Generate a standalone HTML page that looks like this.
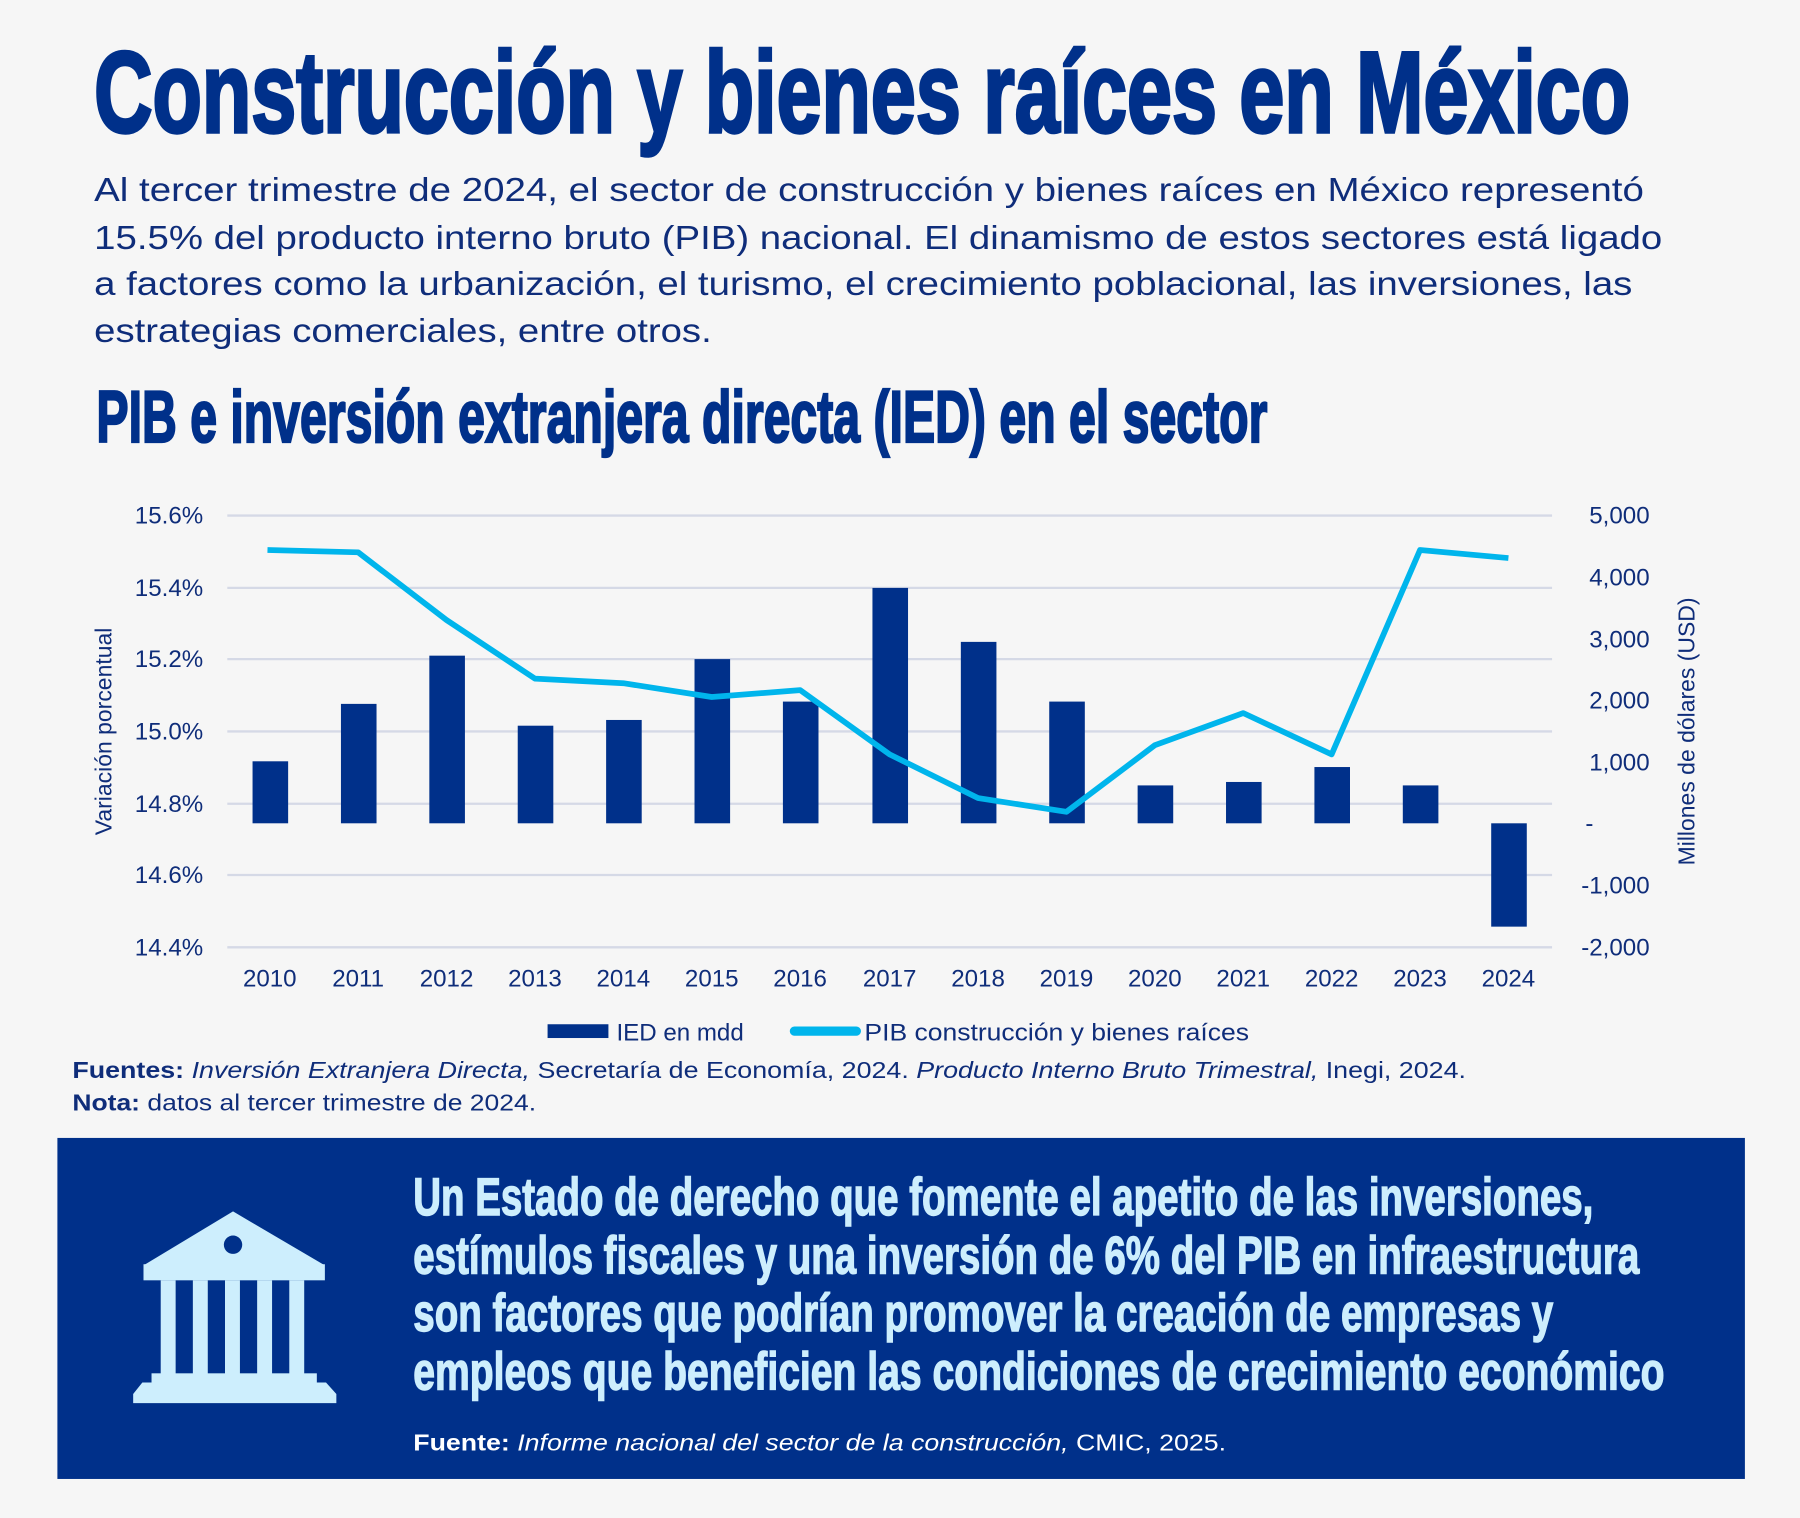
<!DOCTYPE html>
<html><head><meta charset="utf-8"><style>
html,body{margin:0;padding:0;background:#f6f6f6;}
svg{display:block}
text{font-family:"Liberation Sans",sans-serif;}
</style></head><body>
<svg width="1800" height="1518" viewBox="0 0 1568 1322" preserveAspectRatio="none" xmlns="http://www.w3.org/2000/svg">
<rect width="1568" height="1322" fill="#f6f6f6"/>
<text x="82" y="115" font-size="100" font-weight="bold" fill="#00308a" stroke="#00308a" stroke-width="3" textLength="1338" lengthAdjust="spacingAndGlyphs">Construcción y bienes raíces en México</text>
<g font-size="29" fill="#0f2d7a">
<text x="82" y="175" textLength="1350" lengthAdjust="spacingAndGlyphs">Al tercer trimestre de 2024, el sector de construcción y bienes raíces en México representó</text>
<text x="82" y="217" textLength="1366" lengthAdjust="spacingAndGlyphs">15.5% del producto interno bruto (PIB) nacional. El dinamismo de estos sectores está ligado</text>
<text x="82" y="257" textLength="1340" lengthAdjust="spacingAndGlyphs">a factores como la urbanización, el turismo, el crecimiento poblacional, las inversiones, las</text>
<text x="82" y="298" textLength="538" lengthAdjust="spacingAndGlyphs">estrategias comerciales, entre otros.</text>
</g>
<text x="84" y="385" font-size="64" font-weight="bold" fill="#00308a" stroke="#00308a" stroke-width="2" textLength="1020" lengthAdjust="spacingAndGlyphs">PIB e inversión extranjera directa (IED) en el sector</text>
<g stroke="#d5d9e6" stroke-width="2">
<line x1="198" y1="449" x2="1352" y2="449"/><line x1="198" y1="512" x2="1352" y2="512"/><line x1="198" y1="574" x2="1352" y2="574"/><line x1="198" y1="637" x2="1352" y2="637"/><line x1="198" y1="700" x2="1352" y2="700"/><line x1="198" y1="762" x2="1352" y2="762"/><line x1="198" y1="825" x2="1352" y2="825"/>
</g>
<g font-size="21" fill="#0f2d7a" text-anchor="end">
<text x="177" y="456">15.6%</text><text x="177" y="519">15.4%</text><text x="177" y="581">15.2%</text><text x="177" y="644">15.0%</text><text x="177" y="707">14.8%</text><text x="177" y="769">14.6%</text><text x="177" y="832">14.4%</text>
<text x="1437" y="456">5,000</text><text x="1437" y="510">4,000</text><text x="1437" y="564">3,000</text><text x="1437" y="617">2,000</text><text x="1437" y="671">1,000</text><text x="1388" y="724">-</text><text x="1437" y="778">-1,000</text><text x="1437" y="832">-2,000</text>
</g>
<text transform="translate(97,637) rotate(-90)" font-size="20" fill="#0f2d7a" text-anchor="middle">Variación porcentual</text>
<text transform="translate(1476,637) rotate(-90)" font-size="20" fill="#0f2d7a" text-anchor="middle">Millones de dólares (USD)</text>
<g fill="#00308a">
<rect x="220" y="663" width="31" height="54"/><rect x="297" y="613" width="31" height="104"/><rect x="374" y="571" width="31" height="146"/><rect x="451" y="632" width="31" height="85"/><rect x="528" y="627" width="31" height="90"/><rect x="605" y="574" width="31" height="143"/><rect x="682" y="611" width="31" height="106"/><rect x="760" y="512" width="31" height="205"/><rect x="837" y="559" width="31" height="158"/><rect x="914" y="611" width="31" height="106"/><rect x="991" y="684" width="31" height="33"/><rect x="1068" y="681" width="31" height="36"/><rect x="1145" y="668" width="31" height="49"/><rect x="1222" y="684" width="31" height="33"/><rect x="1299" y="717" width="31" height="90"/>
</g>
<polyline fill="none" stroke="#00b5ec" stroke-width="5" stroke-linejoin="round" points="233,479 312,481 389,540 466,591 543,595 620,607 697,601 775,657 852,695 929,707 1006,649 1083,621 1160,657 1237,479 1314,486"/>
<g font-size="21" fill="#0f2d7a" text-anchor="middle">
<text x="235" y="859">2010</text><text x="312" y="859">2011</text><text x="389" y="859">2012</text><text x="466" y="859">2013</text><text x="543" y="859">2014</text><text x="620" y="859">2015</text><text x="697" y="859">2016</text><text x="775" y="859">2017</text><text x="852" y="859">2018</text><text x="929" y="859">2019</text><text x="1006" y="859">2020</text><text x="1083" y="859">2021</text><text x="1160" y="859">2022</text><text x="1237" y="859">2023</text><text x="1314" y="859">2024</text>
</g>
<rect x="477" y="892" width="53" height="12" fill="#00308a"/>
<text x="537" y="906" font-size="21" fill="#0f2d7a">IED en mdd</text>
<line x1="692" y1="898" x2="746" y2="898" stroke="#00b5ec" stroke-width="8" stroke-linecap="round"/>
<text x="753" y="906" font-size="21" fill="#0f2d7a" textLength="335" lengthAdjust="spacingAndGlyphs">PIB construcción y bienes raíces</text>
<text x="63" y="939" font-size="20" fill="#0f2d7a" textLength="1214" lengthAdjust="spacingAndGlyphs"><tspan font-weight="bold">Fuentes:</tspan> <tspan font-style="italic">Inversión Extranjera Directa,</tspan> Secretaría de Economía, 2024. <tspan font-style="italic">Producto Interno Bruto Trimestral,</tspan> Inegi, 2024.</text>
<text x="63" y="967" font-size="20" fill="#0f2d7a" textLength="404" lengthAdjust="spacingAndGlyphs"><tspan font-weight="bold">Nota:</tspan> datos al tercer trimestre de 2024.</text>
<rect x="50" y="991" width="1470" height="297" fill="#00308a"/>
<g fill="#cdeefd">
<polygon points="203,1055 125,1102 283,1102"/>
<rect x="125" y="1101" width="158" height="14"/>
<rect x="140" y="1115" width="13" height="82"/><rect x="168" y="1115" width="13" height="82"/><rect x="196" y="1115" width="13" height="82"/><rect x="224" y="1115" width="13" height="82"/><rect x="252" y="1115" width="13" height="82"/>
<rect x="132" y="1196" width="144" height="8"/>
<polygon points="124,1204 284,1204 293,1214 293,1222 116,1222 116,1214"/>
</g>
<circle cx="203" cy="1084" r="8" fill="#00308a"/>
<g font-size="46" font-weight="bold" fill="#cdeefd" stroke="#cdeefd" stroke-width="1.2">
<text x="360" y="1058" textLength="1028" lengthAdjust="spacingAndGlyphs">Un Estado de derecho que fomente el apetito de las inversiones,</text>
<text x="360" y="1109" textLength="1068" lengthAdjust="spacingAndGlyphs">estímulos fiscales y una inversión de 6% del PIB en infraestructura</text>
<text x="360" y="1159" textLength="993" lengthAdjust="spacingAndGlyphs">son factores que podrían promover la creación de empresas y</text>
<text x="360" y="1210" textLength="1090" lengthAdjust="spacingAndGlyphs">empleos que beneficien las condiciones de crecimiento económico</text>
</g>
<text x="360" y="1263" font-size="20" fill="#ffffff" textLength="708" lengthAdjust="spacingAndGlyphs"><tspan font-weight="bold">Fuente:</tspan> <tspan font-style="italic">Informe nacional del sector de la construcción,</tspan> CMIC, 2025.</text>
</svg>
</body></html>
